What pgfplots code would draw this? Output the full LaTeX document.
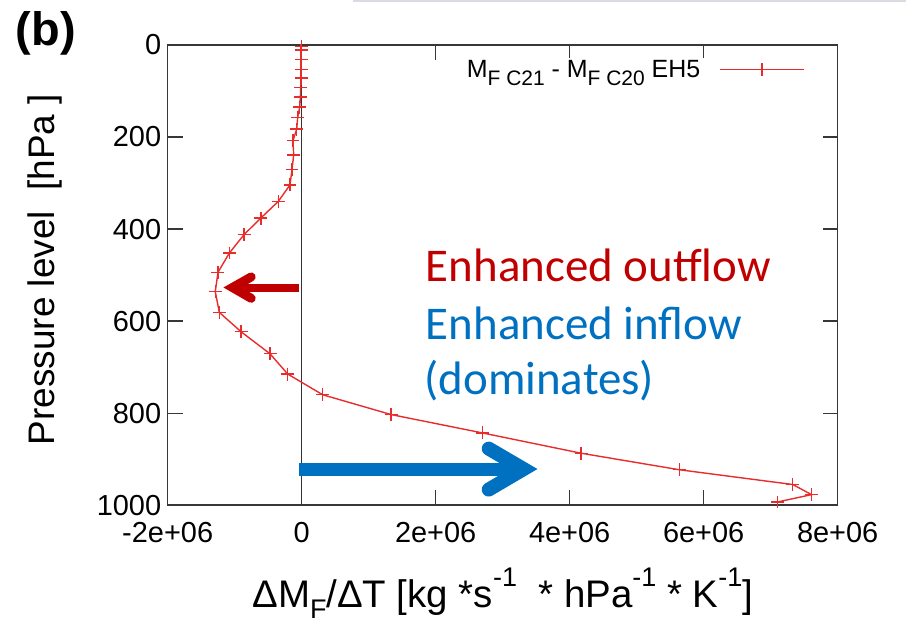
\documentclass[border=0pt]{standalone}
\usepackage{fontspec}
\setmainfont{Liberation Sans}
\newfontfamily\calibri{Carlito}
\usepackage{pgfplots}
\pgfplotsset{compat=1.18}

\definecolor{curvered}{RGB}{232,44,44}
\definecolor{outred}{RGB}{192,0,0}
\definecolor{inblue}{RGB}{0,112,192}
\definecolor{framegray}{RGB}{55,55,55}
\definecolor{rulegray}{RGB}{222,216,226}

% gnuplot-style sub- and superscripts
\newcommand{\lo}[2]{\raisebox{-#1}{\fontsize{21}{21}\selectfont #2}}
\newcommand{\hi}[1]{\raisebox{0.55em}{\fontsize{27}{27}\selectfont #1}}

\begin{document}
\begin{tikzpicture}
\begin{axis}[
  scale only axis,
  width=671pt, height=461pt,
  xmin=-2e6, xmax=8e6,
  ymin=0, ymax=1000,
  y dir=reverse,
  clip=false,
  scaled x ticks=false,
  xtick={-2e6,0,2e6,4e6,6e6,8e6},
  xticklabels={-2e+06,0,2e+06,4e+06,6e+06,8e+06},
  ytick={0,200,400,600,800,1000},
  yticklabels={0,200,400,600,800,1000},
  tick align=inside,
  major tick length=15pt,
  xtick pos=both, ytick pos=both,
  tick style={framegray, line width=1.3pt},
  axis line style={framegray, line width=1.5pt},
  /pgf/number format/assume math mode=true,
  ticklabel style={font=\fontsize{29}{30}\selectfont, text=black},
  xticklabel style={yshift=-14pt},
  yticklabel style={xshift=-3pt},
  xlabel={ΔM\raisebox{-0.3em}{\fontsize{27}{27}\selectfont F}/ΔT [kg *s\hi{-1}\ \ * hPa\hi{-1} * K\hi{-1}]},
  xlabel style={at={(axis description cs:0.5,-0.222)}, anchor=base, font=\fontsize{38.5}{39}\selectfont},
  ylabel={Pressure level\ \ [hPa ]},
  ylabel style={at={(axis description cs:-0.183,0.512)}, anchor=center, font=\fontsize{37}{38}\selectfont},
  legend style={at={(axis description cs:0.951,0.972)}, anchor=north east,
    draw=white, fill=white, inner sep=0pt,
    font=\fontsize{25}{26}\selectfont},
  legend plot pos=right,
  legend cell align=right,
  legend image code/.code={
    \begin{scope}
      \color{curvered}
      \pgfsetstrokecolor{curvered}
      \pgfsetlinewidth{1.5pt}
      \pgfpathmoveto{\pgfpoint{0pt}{0pt}}\pgfpathlineto{\pgfpoint{84pt}{0pt}}
      \pgfpathmoveto{\pgfpoint{42pt}{-6.5pt}}\pgfpathlineto{\pgfpoint{42pt}{6.5pt}}
      \pgfusepath{stroke}
    \end{scope}},
]

% zero reference line
\draw[black!80, line width=1.1pt] (axis cs:0,0) -- (axis cs:0,1000);

% profile of the mass-flux change per degree of warming
\addplot[curvered, line width=1.4pt, mark=+, mark size=6.5pt,
  mark options={line width=1.4pt, solid}] coordinates {
  (-0.005e6,3)
  (-0.010e6,11) (-0.010e6,31) (-0.010e6,53) (-0.010e6,72)
  (-0.015e6,92) (-0.020e6,113) (-0.030e6,135) (-0.060e6,157)
  (-0.075e6,183) (-0.130e6,208) (-0.120e6,239) (-0.145e6,271)
  (-0.175e6,304) (-0.350e6,340) (-0.610e6,376) (-0.860e6,412)
  (-1.080e6,452) (-1.250e6,494) (-1.290e6,536) (-1.230e6,581)
  (-0.906e6,623) (-0.473e6,671) (-0.209e6,715) (0.313e6,760)
  (1.333e6,803) (2.700e6,843) (4.170e6,887) (5.640e6,923)
  (7.330e6,955) (7.610e6,977) (7.100e6,993)
};
\addlegendentry{M\lo{8pt}{F C21} - M\lo{8pt}{F C20} EH5\hspace*{17pt}}

% annotation arrows
\draw[outred, line width=8pt, line cap=butt] (axis cs:-0.034e6,527) -- (axis cs:-1.02e6,527);
\draw[outred, line width=9pt, line cap=round, line join=miter]
  (axis cs:-0.754e6,504) -- (axis cs:-1.033e6,527) -- (axis cs:-0.754e6,550.5);
\draw[inblue, line width=13pt, line cap=butt] (axis cs:-0.034e6,921.4) -- (axis cs:3.30e6,921.4);
\draw[inblue, line width=14pt, line cap=round, line join=miter]
  (axis cs:2.791e6,877) -- (axis cs:3.313e6,921.4) -- (axis cs:2.791e6,966);

% annotation text
\node[anchor=base west, inner sep=0pt, text=outred, font=\calibri\fontsize{47}{47}\selectfont]
  at (axis cs:1.851e6,514) {Enhanced outflow};
\node[anchor=base west, inner sep=0pt, text=inblue, font=\calibri\fontsize{47}{47}\selectfont]
  at (axis cs:1.851e6,640.6) {Enhanced inflow};
\node[anchor=base west, inner sep=0pt, text=inblue, font=\calibri\fontsize{47}{47}\selectfont]
  at (axis cs:1.83e6,760) {(dominates)};

% panel letter and page rule
\node[font=\bfseries\fontsize{47}{47}\selectfont] at (axis description cs:-0.182,1.026) {(b)};
\draw[rulegray, line width=2pt] (axis description cs:0.277,1.0955) -- (axis description cs:1.102,1.0955);
\end{axis}
\useasboundingbox (-168pt,-116pt) rectangle (739pt,506pt);
\end{tikzpicture}
\end{document}
